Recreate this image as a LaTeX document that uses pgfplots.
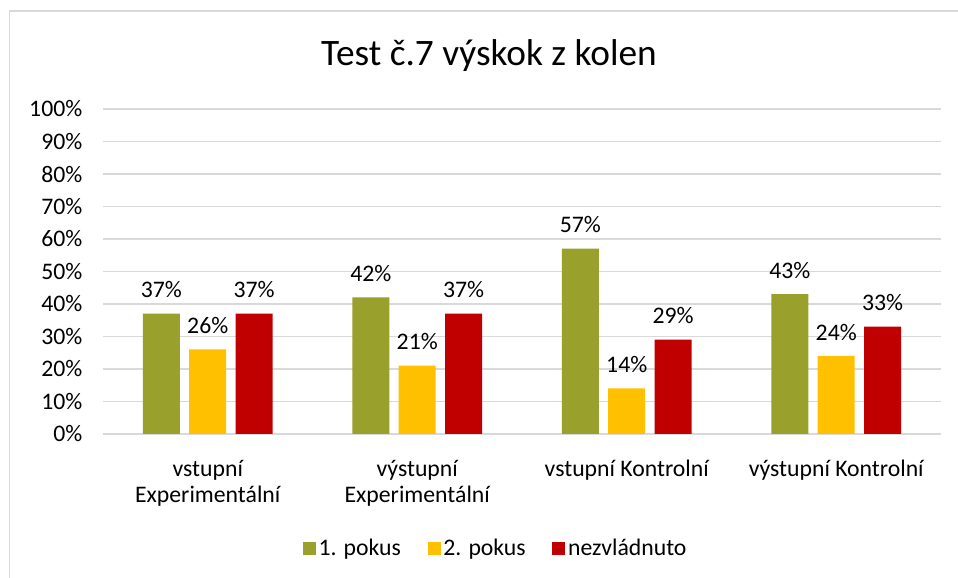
\documentclass[border=0pt]{standalone}
\usepackage{pgfplots}
\pgfplotsset{compat=1.18}
\usepackage{fontspec}
\setmainfont{Carlito}
\definecolor{olive1}{HTML}{9AA02C}
\definecolor{gold1}{HTML}{FFC000}
\definecolor{red1}{HTML}{C00000}
\definecolor{grid1}{HTML}{D9D9D9}
\newcommand\tickfont{\fontsize{17.8}{19.5}\selectfont}
\begin{document}
\begin{tikzpicture}[x=0.75pt,y=0.75pt]
% picture frame in px of the reference, origin at the axis' lower left corner
\path[use as bounding box] (-103,-144) rectangle (855,434);
\draw[grid1, line width=1.1pt] (-93.5,-144) -- (-93.5,423) -- (855,423);
\node[anchor=base, font=\fontsize{28}{32}\selectfont] at (386,368) {Test č.7 výskok z kolen};
\begin{axis}[
    at={(0,0)}, anchor=south west,
    scale only axis,
    width=628.5pt, height=243.75pt,
    ybar=7pt, bar width=27.75pt,
    xmin=-0.5, xmax=3.5, ymin=0, ymax=100,
    enlarge x limits=false,
    xtick=data,
    xticklabels={{vstupní\\Experimentální},{výstupní\\Experimentální},{vstupní Kontrolní},{výstupní Kontrolní}},
    xticklabel style={align=center, yshift=-16pt, font=\tickfont},
    ytick={0,10,...,100},
    yticklabel={\tickfont\pgfmathprintnumber{\tick}\%},
    yticklabel style={xshift=-12pt, font=\tickfont},
    /pgf/number format/assume math mode=true,
    major tick length=0pt,
    axis line style={draw=none},
    ymajorgrids, grid style={grid1, line width=0.8pt},
    nodes near coords={\tickfont\pgfmathprintnumber{\pgfplotspointmeta}\%},
    every node near coord/.append style={font=\tickfont, yshift=8.3pt},
    legend style={at={(0.469,-0.351)}, anchor=center, draw=none, legend columns=-1,
        font=\tickfont,
        /tikz/every even column/.append style={column sep=18pt}},
    legend image code/.code={\fill[#1] (-3pt,-4.9pt) rectangle (6.8pt,4.9pt);},
]
\addplot[fill=olive1, draw=none] coordinates {(0,37) (1,42) (2,57) (3,43)};
\addplot[fill=gold1, draw=none] coordinates {(0,26) (1,21) (2,14) (3,24)};
\addplot[fill=red1, draw=none] coordinates {(0,37) (1,37) (2,29) (3,33)};
\legend{1. pokus, 2. pokus, nezvládnuto}
\end{axis}
\end{tikzpicture}
\end{document}
